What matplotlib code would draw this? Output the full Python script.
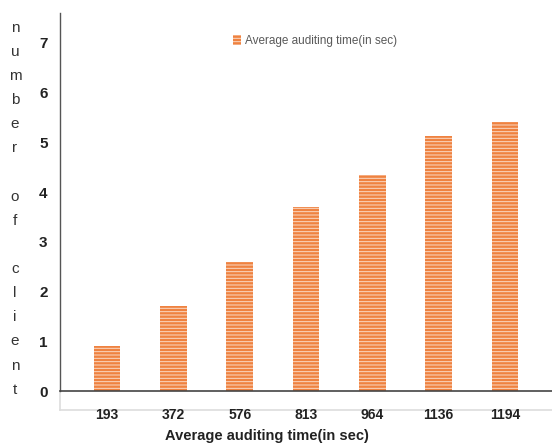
import numpy as np
import matplotlib
matplotlib.use('Agg')
import matplotlib.pyplot as plt

categories = ['193', '372', '576', '813', '964', '1136', '1194']
clients = [0.9, 1.7, 2.6, 3.7, 4.35, 5.12, 5.4]
series_name = 'Average auditing time(in sec)'
y_ticks = [0, 1, 2, 3, 4, 5, 6, 7]

plt.rcParams['font.family'] = ['Liberation Sans', 'DejaVu Sans']
plt.rcParams['hatch.color'] = '#fbd9c4'
plt.rcParams['hatch.linewidth'] = 0.7

fig = plt.figure(figsize=(5.52, 4.46), dpi=100)
ax = fig.add_axes([0.1087, 0.1233, 0.8913, 0.8476])

x = np.arange(len(categories))
ax.bar(x, clients, width=0.4, color='#ef8240', hatch='-----', label=series_name)

ax.set_xlim(-0.71, 6.71)
ax.set_ylim(0, 7.6)
ax.set_yticks(y_ticks)
ax.set_yticklabels([str(t) for t in y_ticks], fontsize=11, fontweight='bold', color='#222222')
ax.set_xticks(x)
ax.set_xticklabels(categories, fontsize=10, fontweight='bold', color='#222222')
ax.tick_params(axis='both', length=0)
ax.tick_params(axis='y', pad=9)
ax.tick_params(axis='x', pad=12)

for s in ['top', 'right']:
    ax.spines[s].set_visible(False)
ax.spines['left'].set_color('#555555')
ax.spines['bottom'].set_color('#444444')
ax.spines['left'].set_linewidth(1.0)
ax.spines['bottom'].set_linewidth(1.2)

# light grey frame under the axis
ax.plot([0, 1], [-0.05, -0.05], transform=ax.transAxes, color='#dddddd', lw=1.2, clip_on=False, zorder=0)
ax.plot([0, 0], [0, -0.05], transform=ax.transAxes, color='#dddddd', lw=1.2, clip_on=False, zorder=0)

ax.set_xlabel(series_name, fontsize=10.5, fontweight='bold', color='#222222', labelpad=5)
ax.xaxis.label.set_x(0.42)

leg = ax.legend(loc='center left', bbox_to_anchor=(0.33, 0.925), frameon=False,
                fontsize=8.5, handlelength=0.7, handleheight=0.9, handletextpad=0.3)
for t in leg.get_texts():
    t.set_color('#595959')

ylabel = 'number of client'
fig.text(0.027, 0.532, '\n'.join(ylabel), ha='center', va='center',
         fontsize=11, linespacing=1.92, color='#333333')

fig.savefig('out.png', dpi=100)
